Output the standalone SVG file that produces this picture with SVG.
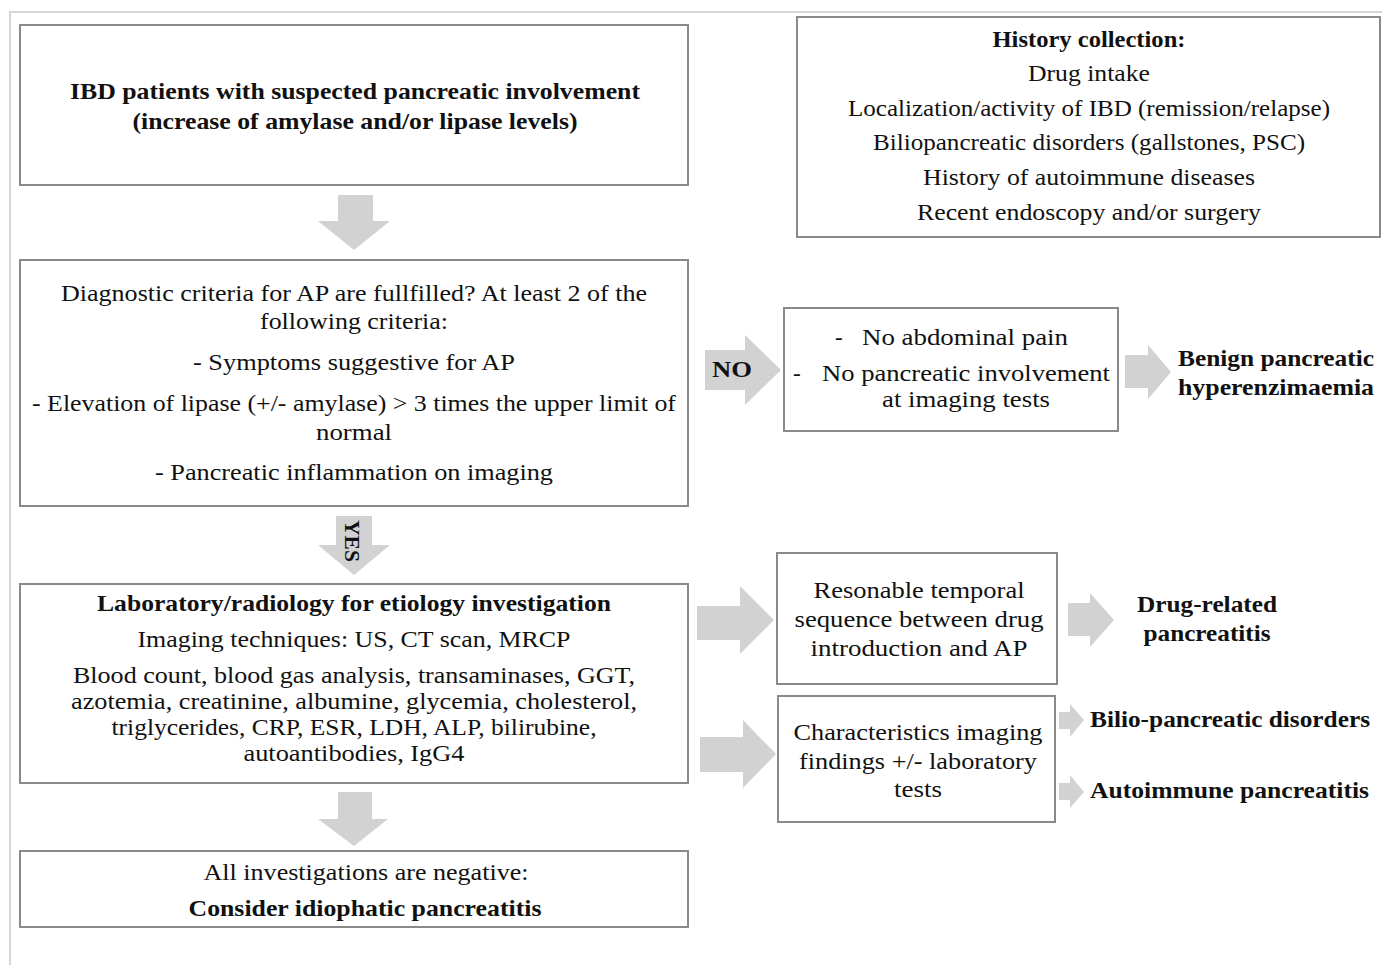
<svg xmlns="http://www.w3.org/2000/svg" width="1382" height="965" viewBox="0 0 1382 965">
<style>
.box{fill:#fff;stroke:#8a8a8a;stroke-width:2}
.arr{fill:#d2d2d2;stroke:none}
.frame{stroke:#d6d6d6;stroke-width:2;fill:none}
text{font-family:"Liberation Serif","Times New Roman",serif;font-size:23px;fill:#111}
.c{text-anchor:middle}
.b{font-weight:bold}
.s{text-anchor:start}
</style>
<rect width="1382" height="965" fill="#fff"/>
<g id="frame"><path class="frame" d="M10,965 V12 H1382"/></g>

<g id="connectors">
<polygon class="arr" points="338,195 373,195 373,221 390,221 354,250 318,221 338,221"/>
<polygon class="arr" points="705,350 745,350 745,335 781,370 745,405 745,390 705,390"/>
<polygon class="arr" points="1125,355 1148,355 1148,345 1171,372 1148,399 1148,388 1125,388"/>
<polygon class="arr" points="336,516 372,516 372,545 390,545 354,575 318,545 336,545"/>
<polygon class="arr" points="697,606 740,606 740,586 774,620 740,654 740,640 697,640"/>
<polygon class="arr" points="700,737 743,737 743,720 776,754 743,788 743,772 700,772"/>
<polygon class="arr" points="1068,603 1090,603 1090,593 1114,620 1090,647 1090,636 1068,636"/>
<polygon class="arr" points="1059,712 1070,712 1070,704 1084,720 1070,737 1070,729 1059,729"/>
<polygon class="arr" points="1059,783 1070,783 1070,775 1084,792 1070,808 1070,800 1059,800"/>
<polygon class="arr" points="338,792 372,792 372,819 388,819 354,846 318,819 338,819"/>
<text class="b" x="712" y="377" textLength="40" lengthAdjust="spacingAndGlyphs">NO</text>
<text class="c b" transform="translate(345,541) rotate(90)" style="font-size:21px" textLength="42" lengthAdjust="spacingAndGlyphs">YES</text>
</g>

<g id="n1">
<rect class="box" x="20" y="25" width="668" height="160"/>
<text class="c b" x="355" y="99" textLength="570" lengthAdjust="spacingAndGlyphs">IBD patients with suspected pancreatic involvement</text>
<text class="c b" x="355" y="129" textLength="445" lengthAdjust="spacingAndGlyphs">(increase of amylase and/or lipase levels)</text>
</g>

<g id="n-history">
<rect class="box" x="797" y="17" width="583" height="220"/>
<text class="c b" x="1089" y="47" textLength="193" lengthAdjust="spacingAndGlyphs">History collection:</text>
<text class="c" x="1089" y="81" textLength="122" lengthAdjust="spacingAndGlyphs">Drug intake</text>
<text class="c" x="1089" y="116" textLength="482" lengthAdjust="spacingAndGlyphs">Localization/activity of IBD (remission/relapse)</text>
<text class="c" x="1089" y="150" textLength="432" lengthAdjust="spacingAndGlyphs">Biliopancreatic disorders (gallstones, PSC)</text>
<text class="c" x="1089" y="185" textLength="332" lengthAdjust="spacingAndGlyphs">History of autoimmune diseases</text>
<text class="c" x="1089" y="220" textLength="344" lengthAdjust="spacingAndGlyphs">Recent endoscopy and/or surgery</text>
</g>

<g id="n2">
<rect class="box" x="20" y="260" width="668" height="246"/>
<text class="c" x="354" y="301" textLength="586" lengthAdjust="spacingAndGlyphs">Diagnostic criteria for AP are fullfilled? At least 2 of the</text>
<text class="c" x="354" y="329" textLength="188" lengthAdjust="spacingAndGlyphs">following criteria:</text>
<text class="c" x="354" y="370" textLength="322" lengthAdjust="spacingAndGlyphs">- Symptoms suggestive for AP</text>
<text class="c" x="354" y="411" textLength="644" lengthAdjust="spacingAndGlyphs">- Elevation of lipase (+/- amylase) &gt; 3 times the upper limit of</text>
<text class="c" x="354" y="440" textLength="76" lengthAdjust="spacingAndGlyphs">normal</text>
<text class="c" x="354" y="480" textLength="398" lengthAdjust="spacingAndGlyphs">- Pancreatic inflammation on imaging</text>
</g>

<g id="n-no">
<rect class="box" x="784" y="308" width="334" height="123"/>
<text class="s" x="835" y="345">-</text>
<text class="s" x="862" y="345" textLength="206" lengthAdjust="spacingAndGlyphs">No abdominal pain</text>
<text class="s" x="793" y="381">-</text>
<text class="s" x="822" y="381" textLength="288" lengthAdjust="spacingAndGlyphs">No pancreatic involvement</text>
<text class="c" x="966" y="407" textLength="168" lengthAdjust="spacingAndGlyphs">at imaging tests</text>
</g>

<g id="n-benign">
<text class="s b" x="1178" y="366" textLength="196" lengthAdjust="spacingAndGlyphs">Benign pancreatic</text>
<text class="s b" x="1178" y="395" textLength="196" lengthAdjust="spacingAndGlyphs">hyperenzimaemia</text>
</g>

<g id="n3">
<rect class="box" x="20" y="584" width="668" height="199"/>
<text class="c b" x="354" y="611" textLength="514" lengthAdjust="spacingAndGlyphs">Laboratory/radiology for etiology investigation</text>
<text class="c" x="354" y="647" textLength="433" lengthAdjust="spacingAndGlyphs">Imaging techniques: US, CT scan, MRCP</text>
<text class="c" x="354" y="683" textLength="562" lengthAdjust="spacingAndGlyphs">Blood count, blood gas analysis, transaminases, GGT,</text>
<text class="c" x="354" y="709" textLength="566" lengthAdjust="spacingAndGlyphs">azotemia, creatinine, albumine, glycemia, cholesterol,</text>
<text class="c" x="354" y="735" textLength="485" lengthAdjust="spacingAndGlyphs">triglycerides, CRP, ESR, LDH, ALP, bilirubine,</text>
<text class="c" x="354" y="761" textLength="221" lengthAdjust="spacingAndGlyphs">autoantibodies, IgG4</text>
</g>

<g id="n-drugseq">
<rect class="box" x="777" y="553" width="280" height="131"/>
<text class="c" x="919" y="598" textLength="211" lengthAdjust="spacingAndGlyphs">Resonable temporal</text>
<text class="c" x="919" y="627" textLength="249" lengthAdjust="spacingAndGlyphs">sequence between drug</text>
<text class="c" x="919" y="656" textLength="217" lengthAdjust="spacingAndGlyphs">introduction and AP</text>
</g>

<g id="n-drug">
<text class="c b" x="1207" y="612" textLength="140" lengthAdjust="spacingAndGlyphs">Drug-related</text>
<text class="c b" x="1207" y="641" textLength="127" lengthAdjust="spacingAndGlyphs">pancreatitis</text>
</g>

<g id="n-imaging">
<rect class="box" x="778" y="696" width="277" height="126"/>
<text class="c" x="918" y="740" textLength="249" lengthAdjust="spacingAndGlyphs">Characteristics imaging</text>
<text class="c" x="918" y="769" textLength="238" lengthAdjust="spacingAndGlyphs">findings +/- laboratory</text>
<text class="c" x="918" y="797" textLength="48" lengthAdjust="spacingAndGlyphs">tests</text>
</g>

<g id="n-bilio">
<text class="s b" x="1090" y="727" textLength="280" lengthAdjust="spacingAndGlyphs">Bilio-pancreatic disorders</text>
</g>
<g id="n-autoimmune">
<text class="s b" x="1090" y="798" textLength="279" lengthAdjust="spacingAndGlyphs">Autoimmune pancreatitis</text>
</g>

<g id="n4">
<rect class="box" x="20" y="851" width="668" height="76"/>
<text class="c" x="366" y="880" textLength="325" lengthAdjust="spacingAndGlyphs">All investigations are negative:</text>
<text class="c b" x="365" y="916" textLength="353" lengthAdjust="spacingAndGlyphs">Consider idiophatic pancreatitis</text>
</g>
</svg>
